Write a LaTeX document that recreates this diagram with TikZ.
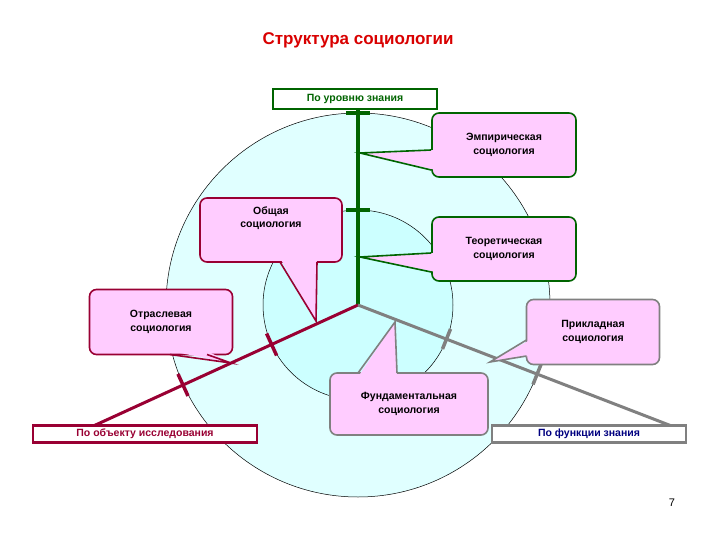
\documentclass[tikz,border=0pt]{standalone}
\usepackage{fontspec}
\setmainfont{Liberation Sans}
\usetikzlibrary{calc}
\begin{document}
\begin{tikzpicture}[x=1pt,y=-1pt,
  callout/.style={draw=#1,line width=1.6pt,fill=calfill,rounded corners=7pt,font=\bfseries\fontsize{10.5}{13.5}\selectfont,align=center,inner sep=0pt},
  lbl/.style={draw=#1,line width=2.4pt,fill=white,font=\bfseries\fontsize{10.5}{11}\selectfont,inner sep=1pt},
  tick/.style={line width=3.5pt}]
\definecolor{calfill}{RGB}{255,204,255}
\definecolor{cyanA}{RGB}{224,255,255}
\definecolor{cyanB}{RGB}{204,255,255}
\definecolor{dgreen}{RGB}{0,100,0}
\definecolor{dred}{RGB}{153,0,51}
\definecolor{lgray}{RGB}{128,128,128}
\definecolor{navy}{RGB}{0,0,128}
\useasboundingbox (0,0) rectangle (720,540);
\fill[white] (0,0) rectangle (720,540);
\coordinate (c) at (358,305);
\draw[fill=cyanA,line width=0.5pt] (c) circle (192);
\draw[fill=cyanB,line width=0.5pt] (c) circle (95);
\node[font=\bfseries\fontsize{17}{20}\selectfont,text=red!85!black] (title) at (358,40) {Структура социологии};
\node[font=\fontsize{11}{13}\selectfont] (pg) at (672,503) {7};
% axes
\coordinate (gtop) at (358,100);
\coordinate (rend) at (78,433);
\coordinate (gend) at (682,430);
\draw[dgreen,line width=3.5pt] (c) -- (gtop);
\draw[dred,line width=3pt] (c) -- (rend);
\draw[lgray,line width=3pt] (c) -- (gend);
\draw[dgreen,tick] (346,113) -- (370,113);
\draw[dgreen,tick] (346,210) -- (370,210);
\coordinate (r1) at (271.6,344.5); \coordinate (r2) at (183,385);
\draw[dred,tick] ($(r1)+(-5,-11)$) -- ($(r1)+(5,11)$);
\draw[dred,tick] ($(r2)+(-5,-11)$) -- ($(r2)+(5,11)$);
\coordinate (g1) at (446.5,339); \coordinate (g2) at (537,374.5);
\draw[lgray,tick] ($(g1)+(4,-10)$) -- ($(g1)+(-4,10)$);
\draw[lgray,tick] ($(g2)+(4,-10)$) -- ($(g2)+(-4,10)$);
% label boxes
\node[lbl=dgreen,text=dgreen,minimum width=164,minimum height=20] (lv) at (355,99) {По уровню знания};
\node[lbl=dred,text=dred,minimum width=224,minimum height=17] (lo) at (145,434) {По объекту исследования};
\node[lbl=lgray,text=navy,minimum width=194,minimum height=17] (lf) at (589,434) {По функции знания};
% callouts
\node[callout=dgreen,minimum width=144,minimum height=64] (emp) at (504,145) {Эмпирическая\\социология};
\node[callout=dgreen,minimum width=144,minimum height=64] (teo) at (504,249) {Теоретическая\\социология};
\node[callout=dred,minimum width=142,minimum height=64] (obs) at (271,230) {Общая\\социология\\[12pt]};
\node[callout=dred,minimum width=143,minimum height=65] (otr) at (161,322) {Отраслевая\\социология};
\node[callout=lgray,minimum width=133,minimum height=65] (pri) at (593,332) {Прикладная\\социология};
\node[callout=lgray,minimum width=158,minimum height=62] (fun) at (409,404) {Фундаментальная\\социология};
% tails
\coordinate (t1) at (360,153); \coordinate (t2) at (360,257); \coordinate (t3) at (316,321);
\coordinate (t4) at (231,363); \coordinate (t5) at (490,362); \coordinate (t6) at (395,322);
\fill[calfill] (436,150) -- (t1) -- (436,170) -- cycle;
\draw[dgreen,line width=1.6pt] (emp.west |- 0,150) -- (t1) -- (emp.west |- 0,170);
\fill[calfill] (436,253) -- (t2) -- (436,272) -- cycle;
\draw[dgreen,line width=1.6pt] (teo.west |- 0,253) -- (t2) -- (teo.west |- 0,272);
\fill[calfill] (280,258) -- (t3) -- (317,258) -- cycle;
\draw[dred,line width=1.6pt] (280,262) -- (t3) -- (317,262);
\fill[calfill] (170,351) -- (t4) -- (207,351) -- cycle;
\draw[dred,line width=1.6pt] (170,354.5) -- (t4) -- (207,354.5);
\fill[calfill] (530,340) -- (t5) -- (530,356) -- cycle;
\draw[lgray,line width=1.6pt] (526.5,340) -- (t5) -- (526.5,356);
\fill[calfill] (358,377) -- (t6) -- (397,377) -- cycle;
\draw[lgray,line width=1.6pt] (358,373) -- (t6) -- (397,373);
\end{tikzpicture}
\end{document}
